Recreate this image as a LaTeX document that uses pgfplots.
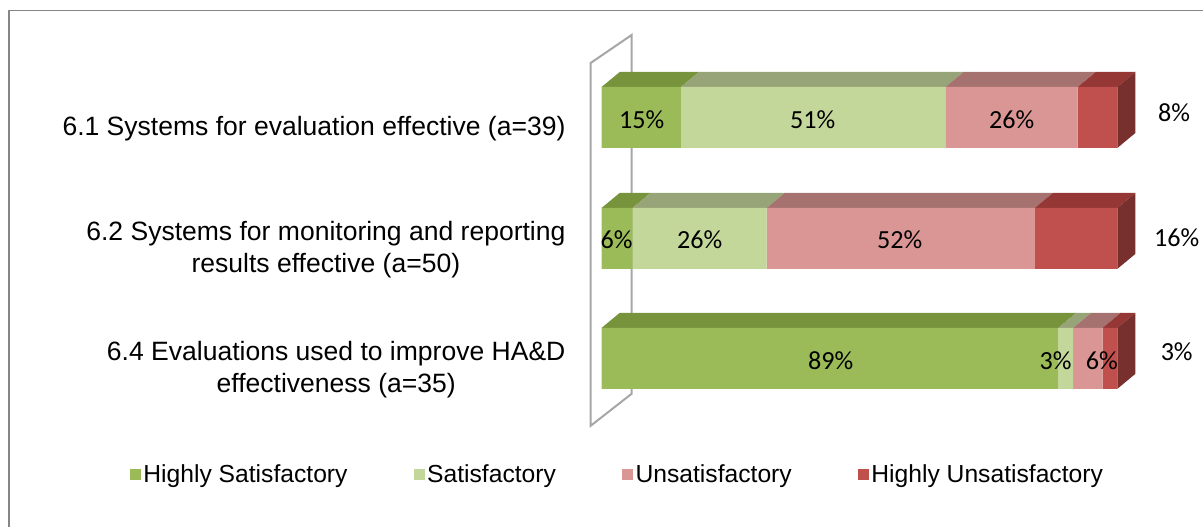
\documentclass[border=0pt]{standalone}
\usepackage{fontspec}
\setmainfont{Liberation Sans}
\newfontfamily\calibri{Carlito}
\usepackage{pgfplots}
\pgfplotsset{compat=1.18}
\definecolor{hsF}{HTML}{9BBB59}
\definecolor{hsT}{HTML}{77933C}
\definecolor{sF}{HTML}{C4D79B}
\definecolor{sT}{HTML}{97A477}
\definecolor{uF}{HTML}{DA9694}
\definecolor{uT}{HTML}{A6726F}
\definecolor{huF}{HTML}{C0504D}
\definecolor{huT}{HTML}{953735}
\definecolor{huS}{HTML}{78302E}
\definecolor{wallgray}{HTML}{A6A6A6}
\definecolor{framegray}{HTML}{868686}
\tikzset{dlab/.style={font=\calibri\fontsize{19.6}{22}\selectfont, inner sep=0pt, anchor=center},
  clab/.style={font=\fontsize{19.9}{24.2}\selectfont, inner sep=0pt, anchor=east, align=center}}
\pgfplotsset{base/.style={
  width=903pt, height=395.25pt, scale only axis,
  xmin=-116.667, xmax=116.667, ymin=0, ymax=527, y dir=reverse,
  hide axis, clip=false, at={(0,0)}, anchor=south west}}
\begin{document}
\begin{tikzpicture}
% ---------- background: frame, wall, top and side faces ----------
\begin{axis}[base]
\path (axis cs:-116.667,0) rectangle (axis cs:116.667,527);
\addplot[draw=framegray, line width=1pt] coordinates {(-114.92,527) (-114.92,10.5) (116.667,10.5)};
\addplot[draw=wallgray, line width=1.5pt, line join=miter] coordinates {(-2.13,63) (5.81,35) (5.81,394) (-2.13,426) (-2.13,63) (5.81,35)};
% bar 1 top faces (front top y=87, depth 3.5 / 15)
\addplot[fill=hsT, draw=none] coordinates {(0,87) (3.5,72) (18.88,72) (15.38,87)};
\addplot[fill=sT, draw=none] coordinates {(15.38,87) (18.88,72) (70.17,72) (66.67,87)};
\addplot[fill=uT, draw=none] coordinates {(66.67,87) (70.17,72) (95.81,72) (92.31,87)};
\addplot[fill=huT, draw=none] coordinates {(92.31,87) (95.81,72) (103.5,72) (100,87)};
\addplot[fill=huS, draw=none] coordinates {(100,87) (103.5,72) (103.5,133) (100,148)};
% bar 2
\addplot[fill=hsT, draw=none] coordinates {(0,208) (3.5,193) (9.5,193) (6,208)};
\addplot[fill=sT, draw=none] coordinates {(6,208) (9.5,193) (35.5,193) (32,208)};
\addplot[fill=uT, draw=none] coordinates {(32,208) (35.5,193) (87.5,193) (84,208)};
\addplot[fill=huT, draw=none] coordinates {(84,208) (87.5,193) (103.5,193) (100,208)};
\addplot[fill=huS, draw=none] coordinates {(100,208) (103.5,193) (103.5,254) (100,269)};
% bar 3
\addplot[fill=hsT, draw=none] coordinates {(0,328) (3.5,313) (92.07,313) (88.57,328)};
\addplot[fill=sT, draw=none] coordinates {(88.57,328) (92.07,313) (94.93,313) (91.43,328)};
\addplot[fill=uT, draw=none] coordinates {(91.43,328) (94.93,313) (100.64,313) (97.14,328)};
\addplot[fill=huT, draw=none] coordinates {(97.14,328) (100.64,313) (103.5,313) (100,328)};
\addplot[fill=huS, draw=none] coordinates {(100,328) (103.5,313) (103.5,374) (100,389)};
\end{axis}
% ---------- front faces ----------
\begin{axis}[base, xbar stacked, bar width=61,
  legend image code/.code={\fill[#1] (0pt,-4.125pt) rectangle (8.25pt,4.125pt);},
  legend style={at={(0.5133,0.0987)}, anchor=center, draw=none, fill=none,
    legend columns=4, font=\fontsize{18.5}{22}\selectfont,
    /tikz/every even column/.append style={column sep=47.5pt}}]
\addplot[fill=hsF, draw=none] coordinates {(15.38,117.5) (6,238.5) (88.57,358.5)};
\addplot[fill=sF, draw=none] coordinates {(51.28,117.5) (26,238.5) (2.86,358.5)};
\addplot[fill=uF, draw=none] coordinates {(25.64,117.5) (52,238.5) (5.71,358.5)};
\addplot[fill=huF, draw=none] coordinates {(7.69,117.5) (16,238.5) (2.86,358.5)};
\legend{Highly Satisfactory, Satisfactory, Unsatisfactory, Highly Unsatisfactory}
\end{axis}
% ---------- labels ----------
\begin{axis}[base]
\path (axis cs:-116.667,0) rectangle (axis cs:116.667,527);
\node[dlab] at (axis cs:7.75,120) {15\%};
\node[dlab] at (axis cs:40.9,120) {51\%};
\node[dlab] at (axis cs:79.5,120) {26\%};
\node[dlab] at (axis cs:111,113) {8\%};
\node[dlab] at (axis cs:2.9,240) {6\%};
\node[dlab] at (axis cs:19,240) {26\%};
\node[dlab] at (axis cs:57.8,240) {52\%};
\node[dlab] at (axis cs:111.5,238) {16\%};
\node[dlab] at (axis cs:44.4,361) {89\%};
\node[dlab] at (axis cs:88,361) {3\%};
\node[dlab] at (axis cs:97,361) {6\%};
\node[dlab] at (axis cs:111.5,352) {3\%};
\node[clab] at (axis cs:-6.98,128.5) {6.1 Systems for evaluation effective (a=39)};
\node[clab] at (axis cs:-6.98,249.5) {6.2 Systems for monitoring and reporting\\results effective (a=50)};
\node[clab] at (axis cs:-6.98,369.5) {6.4 Evaluations used to improve HA\&D\\effectiveness (a=35)};
\end{axis}
\end{tikzpicture}
\end{document}
